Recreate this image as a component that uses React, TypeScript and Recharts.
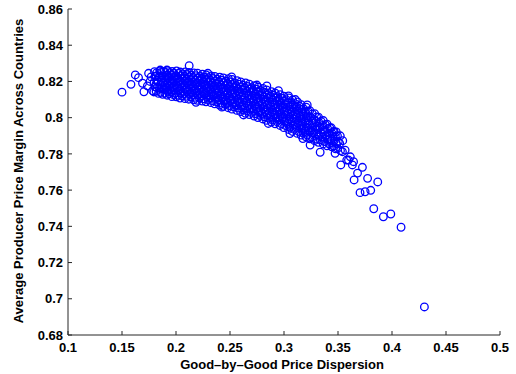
import { ScatterChart, Scatter, XAxis, YAxis } from 'recharts';

// dispersion vs. average producer price margin
const leftTail: [number, number][] = [
  [0.1500, 0.8141], [0.1583, 0.8184], [0.1623, 0.8236], [0.1653, 0.8221], [0.1690, 0.8190],
  [0.1703, 0.8143], [0.1746, 0.8245], [0.1783, 0.8149], [0.1760, 0.8200], [0.1735, 0.8175],
  [0.1854, 0.8263], [0.1916, 0.8263], [0.2122, 0.8287], [0.1770, 0.8225],
];

const coreLeft: [number, number][] = [
  [0.1795, 0.8142], [0.1808, 0.8170], [0.1797, 0.8196], [0.1806, 0.8229], [0.1801, 0.8254],
  [0.1838, 0.8134], [0.1846, 0.8162], [0.1835, 0.8199], [0.1843, 0.8226], [0.1849, 0.8258],
  [0.1877, 0.8129], [0.1886, 0.8158], [0.1883, 0.8191], [0.1874, 0.8231], [0.1889, 0.8255],
  [0.1918, 0.8124], [0.1925, 0.8147], [0.1914, 0.8170], [0.1922, 0.8189], [0.1927, 0.8216], [0.1916, 0.8235], [0.1921, 0.8259],
  [0.1962, 0.8116], [0.1955, 0.8143], [0.1966, 0.8163], [0.1958, 0.8190], [0.1963, 0.8209], [0.1957, 0.8236], [0.1964, 0.8255],
  [0.2003, 0.8115], [0.1996, 0.8135], [0.2006, 0.8163], [0.1998, 0.8183], [0.2004, 0.8211], [0.1997, 0.8231], [0.2005, 0.8258],
  [0.2038, 0.8108], [0.2045, 0.8136], [0.2036, 0.8156], [0.2043, 0.8184], [0.2037, 0.8204], [0.2046, 0.8232], [0.2039, 0.8252],
  [0.2083, 0.8105], [0.2076, 0.8133], [0.2086, 0.8153], [0.2078, 0.8181], [0.2084, 0.8201], [0.2077, 0.8229], [0.2085, 0.8253],
  [0.2118, 0.8102], [0.2126, 0.8130], [0.2116, 0.8150], [0.2124, 0.8178], [0.2117, 0.8198], [0.2125, 0.8226], [0.2119, 0.8250],
  [0.2163, 0.8099], [0.2156, 0.8127], [0.2166, 0.8147], [0.2158, 0.8175], [0.2164, 0.8195], [0.2157, 0.8223], [0.2165, 0.8247],
  [0.2198, 0.8096], [0.2206, 0.8124], [0.2196, 0.8144], [0.2204, 0.8172], [0.2197, 0.8192], [0.2205, 0.8220], [0.2199, 0.8246],
  [0.2243, 0.8092], [0.2236, 0.8120], [0.2246, 0.8140], [0.2238, 0.8168], [0.2244, 0.8188], [0.2237, 0.8216], [0.2245, 0.8240],
  [0.2278, 0.8088], [0.2286, 0.8116], [0.2276, 0.8136], [0.2284, 0.8164], [0.2277, 0.8184], [0.2285, 0.8212], [0.2279, 0.8236],
  [0.2323, 0.8083], [0.2316, 0.8111], [0.2326, 0.8131], [0.2318, 0.8159], [0.2324, 0.8179], [0.2317, 0.8207], [0.2325, 0.8231],
];

const coreMid: [number, number][] = [
  [0.2358, 0.8076], [0.2366, 0.8105], [0.2356, 0.8125], [0.2364, 0.8154], [0.2357, 0.8175], [0.2365, 0.8203], [0.2359, 0.8228],
  [0.2403, 0.8070], [0.2396, 0.8099], [0.2406, 0.8120], [0.2398, 0.8149], [0.2404, 0.8170], [0.2397, 0.8199], [0.2405, 0.8224],
  [0.2438, 0.8063], [0.2446, 0.8092], [0.2436, 0.8114], [0.2444, 0.8143], [0.2437, 0.8164], [0.2445, 0.8194], [0.2439, 0.8219],
  [0.2483, 0.8055], [0.2476, 0.8085], [0.2486, 0.8107], [0.2478, 0.8137], [0.2484, 0.8159], [0.2477, 0.8189], [0.2485, 0.8215],
  [0.2518, 0.8047], [0.2526, 0.8078], [0.2516, 0.8100], [0.2524, 0.8131], [0.2517, 0.8154], [0.2525, 0.8184], [0.2519, 0.8211],
  [0.2563, 0.8040], [0.2556, 0.8071], [0.2566, 0.8093], [0.2558, 0.8124], [0.2564, 0.8147], [0.2557, 0.8177], [0.2565, 0.8204],
  [0.2598, 0.8033], [0.2606, 0.8064], [0.2596, 0.8086], [0.2604, 0.8117], [0.2597, 0.8140], [0.2605, 0.8170], [0.2599, 0.8197],
  [0.2643, 0.8024], [0.2636, 0.8055], [0.2646, 0.8079], [0.2638, 0.8110], [0.2644, 0.8133], [0.2637, 0.8165], [0.2645, 0.8192],
  [0.2678, 0.8017], [0.2686, 0.8048], [0.2676, 0.8072], [0.2684, 0.8103], [0.2677, 0.8126], [0.2685, 0.8158], [0.2679, 0.8185],
  [0.2723, 0.8009], [0.2716, 0.8040], [0.2726, 0.8064], [0.2718, 0.8095], [0.2724, 0.8118], [0.2717, 0.8150], [0.2725, 0.8177],
  [0.2758, 0.8001], [0.2766, 0.8032], [0.2756, 0.8056], [0.2764, 0.8087], [0.2757, 0.8110], [0.2765, 0.8142], [0.2759, 0.8169],
  [0.2803, 0.7993], [0.2796, 0.8024], [0.2806, 0.8048], [0.2798, 0.8079], [0.2804, 0.8102], [0.2797, 0.8134], [0.2805, 0.8161],
  [0.2838, 0.7985], [0.2846, 0.8016], [0.2836, 0.8040], [0.2844, 0.8071], [0.2837, 0.8094], [0.2845, 0.8126], [0.2839, 0.8153],
  [0.2883, 0.7976], [0.2876, 0.8007], [0.2886, 0.8031], [0.2878, 0.8062], [0.2884, 0.8085], [0.2877, 0.8117], [0.2885, 0.8144],
];

const coreRight: [number, number][] = [
  [0.2918, 0.7966], [0.2926, 0.7998], [0.2916, 0.8021], [0.2924, 0.8053], [0.2917, 0.8077], [0.2925, 0.8108], [0.2919, 0.8136],
  [0.2963, 0.7957], [0.2956, 0.7989], [0.2966, 0.8012], [0.2958, 0.8044], [0.2964, 0.8068], [0.2957, 0.8099], [0.2965, 0.8127],
  [0.2998, 0.7945], [0.3006, 0.7978], [0.2996, 0.8002], [0.3004, 0.8034], [0.2997, 0.8058], [0.3005, 0.8091], [0.2999, 0.8119],
  [0.3043, 0.7935], [0.3036, 0.7968], [0.3046, 0.7992], [0.3038, 0.8024], [0.3044, 0.8048], [0.3037, 0.8081], [0.3045, 0.8109],
  [0.3078, 0.7924], [0.3086, 0.7957], [0.3076, 0.7981], [0.3084, 0.8013], [0.3077, 0.8037], [0.3085, 0.8070], [0.3079, 0.8098],
  [0.3123, 0.7913], [0.3116, 0.7946], [0.3126, 0.7970], [0.3118, 0.8002], [0.3124, 0.8026], [0.3117, 0.8059], [0.3125, 0.8087],
  [0.3158, 0.7904], [0.3166, 0.7935], [0.3156, 0.7959], [0.3164, 0.7990], [0.3157, 0.8013], [0.3165, 0.8045], [0.3159, 0.8072],
  [0.3203, 0.7894], [0.3196, 0.7925], [0.3206, 0.7947], [0.3198, 0.7978], [0.3204, 0.8001], [0.3197, 0.8031], [0.3205, 0.8058],
  [0.3238, 0.7883], [0.3246, 0.7926], [0.3236, 0.7961], [0.3244, 0.8004], [0.3239, 0.8039],
  [0.3283, 0.7873], [0.3276, 0.7915], [0.3286, 0.7948], [0.3278, 0.7990], [0.3284, 0.8022],
  [0.3318, 0.7864], [0.3326, 0.7903], [0.3316, 0.7934], [0.3324, 0.7973], [0.3319, 0.8003],
  [0.3363, 0.7855], [0.3356, 0.7892], [0.3366, 0.7920], [0.3358, 0.7957], [0.3364, 0.7984],
  [0.3398, 0.7845], [0.3406, 0.7879], [0.3396, 0.7905], [0.3404, 0.7939], [0.3399, 0.7964],
  [0.3443, 0.7839], [0.3436, 0.7872], [0.3446, 0.7912], [0.3438, 0.7944],
  [0.3478, 0.7828], [0.3486, 0.7857], [0.3476, 0.7895], [0.3484, 0.7921],
  [0.3523, 0.7818], [0.3516, 0.7858], [0.3521, 0.7900],
];

// second, staggered layer filling the gaps of the dense band
const fillLeft: [number, number][] = [
  [0.1816, 0.8146], [0.1823, 0.8166], [0.1815, 0.8186], [0.1824, 0.8208], [0.1817, 0.8228], [0.1822, 0.8248],
  [0.1856, 0.8140], [0.1863, 0.8162], [0.1855, 0.8184], [0.1864, 0.8206], [0.1857, 0.8228], [0.1862, 0.8250],
  [0.1896, 0.8135], [0.1903, 0.8157], [0.1895, 0.8180], [0.1904, 0.8204], [0.1897, 0.8227], [0.1902, 0.8249],
  [0.1936, 0.8132], [0.1943, 0.8155], [0.1935, 0.8178], [0.1944, 0.8202], [0.1937, 0.8225], [0.1942, 0.8248],
  [0.1976, 0.8127], [0.1983, 0.8150], [0.1975, 0.8174], [0.1984, 0.8198], [0.1977, 0.8222], [0.1982, 0.8245],
  [0.2016, 0.8124], [0.2023, 0.8148], [0.2015, 0.8172], [0.2024, 0.8196], [0.2017, 0.8220], [0.2022, 0.8244],
  [0.2056, 0.8121], [0.2063, 0.8145], [0.2055, 0.8169], [0.2064, 0.8193], [0.2057, 0.8217], [0.2062, 0.8241],
  [0.2096, 0.8118], [0.2103, 0.8142], [0.2095, 0.8166], [0.2104, 0.8190], [0.2097, 0.8214], [0.2102, 0.8238],
  [0.2136, 0.8115], [0.2143, 0.8139], [0.2135, 0.8163], [0.2144, 0.8187], [0.2137, 0.8211], [0.2142, 0.8235],
  [0.2176, 0.8112], [0.2183, 0.8136], [0.2175, 0.8160], [0.2184, 0.8184], [0.2177, 0.8208], [0.2182, 0.8232],
  [0.2216, 0.8108], [0.2223, 0.8132], [0.2215, 0.8156], [0.2224, 0.8180], [0.2217, 0.8204], [0.2222, 0.8228],
  [0.2256, 0.8104], [0.2263, 0.8128], [0.2255, 0.8152], [0.2264, 0.8176], [0.2257, 0.8200], [0.2262, 0.8224],
  [0.2296, 0.8100], [0.2303, 0.8124], [0.2295, 0.8148], [0.2304, 0.8172], [0.2297, 0.8196], [0.2302, 0.8220],
];

const fillMid: [number, number][] = [
  [0.2336, 0.8094], [0.2343, 0.8118], [0.2335, 0.8143], [0.2344, 0.8167], [0.2337, 0.8192], [0.2342, 0.8216],
  [0.2376, 0.8088], [0.2383, 0.8112], [0.2375, 0.8137], [0.2384, 0.8163], [0.2377, 0.8188], [0.2382, 0.8212],
  [0.2416, 0.8081], [0.2423, 0.8106], [0.2415, 0.8131], [0.2424, 0.8157], [0.2417, 0.8182], [0.2422, 0.8207],
  [0.2456, 0.8074], [0.2463, 0.8099], [0.2455, 0.8125], [0.2464, 0.8151], [0.2457, 0.8177], [0.2462, 0.8202],
  [0.2496, 0.8066], [0.2503, 0.8092], [0.2495, 0.8119], [0.2504, 0.8145], [0.2497, 0.8172], [0.2502, 0.8198],
  [0.2536, 0.8060], [0.2543, 0.8086], [0.2535, 0.8112], [0.2544, 0.8140], [0.2537, 0.8166], [0.2542, 0.8192],
  [0.2576, 0.8053], [0.2583, 0.8079], [0.2575, 0.8105], [0.2584, 0.8133], [0.2577, 0.8159], [0.2582, 0.8185],
  [0.2616, 0.8045], [0.2623, 0.8071], [0.2615, 0.8098], [0.2624, 0.8126], [0.2617, 0.8153], [0.2622, 0.8179],
  [0.2656, 0.8037], [0.2663, 0.8064], [0.2655, 0.8091], [0.2664, 0.8119], [0.2657, 0.8146], [0.2662, 0.8173],
  [0.2696, 0.8029], [0.2703, 0.8056], [0.2695, 0.8083], [0.2704, 0.8111], [0.2697, 0.8138], [0.2702, 0.8165],
  [0.2736, 0.8021], [0.2743, 0.8048], [0.2735, 0.8075], [0.2744, 0.8103], [0.2737, 0.8130], [0.2742, 0.8157],
  [0.2776, 0.8013], [0.2783, 0.8040], [0.2775, 0.8067], [0.2784, 0.8095], [0.2777, 0.8122], [0.2782, 0.8149],
  [0.2816, 0.8005], [0.2823, 0.8032], [0.2815, 0.8059], [0.2824, 0.8087], [0.2817, 0.8114], [0.2822, 0.8141],
  [0.2856, 0.7997], [0.2863, 0.8024], [0.2855, 0.8051], [0.2864, 0.8079], [0.2857, 0.8106], [0.2862, 0.8133],
];

const fillRight: [number, number][] = [
  [0.2896, 0.7987], [0.2903, 0.8014], [0.2895, 0.8042], [0.2904, 0.8070], [0.2897, 0.8098], [0.2902, 0.8125],
  [0.2936, 0.7978], [0.2943, 0.8005], [0.2935, 0.8033], [0.2944, 0.8061], [0.2937, 0.8089], [0.2942, 0.8116],
  [0.2976, 0.7967], [0.2983, 0.7995], [0.2975, 0.8023], [0.2984, 0.8051], [0.2977, 0.8079], [0.2982, 0.8107],
  [0.3016, 0.7956], [0.3023, 0.7984], [0.3015, 0.8013], [0.3024, 0.8041], [0.3017, 0.8070], [0.3022, 0.8098],
  [0.3056, 0.7946], [0.3063, 0.7974], [0.3055, 0.8003], [0.3064, 0.8031], [0.3057, 0.8060], [0.3062, 0.8088],
  [0.3096, 0.7935], [0.3103, 0.7963], [0.3095, 0.7992], [0.3104, 0.8020], [0.3097, 0.8049], [0.3102, 0.8077],
  [0.3136, 0.7924], [0.3143, 0.7952], [0.3135, 0.7980], [0.3144, 0.8008], [0.3137, 0.8036], [0.3142, 0.8064],
  [0.3176, 0.7915], [0.3183, 0.7942], [0.3175, 0.7968], [0.3184, 0.7996], [0.3177, 0.8022], [0.3182, 0.8049],
  [0.3216, 0.7904], [0.3223, 0.7930], [0.3215, 0.7957], [0.3224, 0.7983], [0.3217, 0.8010], [0.3222, 0.8036],
  [0.3256, 0.7893], [0.3263, 0.7918], [0.3255, 0.7944], [0.3264, 0.7970], [0.3257, 0.7996], [0.3262, 0.8021],
  [0.3296, 0.7882], [0.3303, 0.7906], [0.3295, 0.7931], [0.3304, 0.7955], [0.3297, 0.7980], [0.3302, 0.8004],
  [0.3336, 0.7878], [0.3343, 0.7912], [0.3335, 0.7946], [0.3344, 0.7980],
  [0.3376, 0.7868], [0.3383, 0.7899], [0.3375, 0.7931], [0.3384, 0.7962],
  [0.3416, 0.7856], [0.3423, 0.7885], [0.3415, 0.7915], [0.3424, 0.7944],
  [0.3456, 0.7844], [0.3463, 0.7871], [0.3455, 0.7897], [0.3464, 0.7924],
  [0.3496, 0.7830], [0.3503, 0.7868], [0.3495, 0.7900],
];

const edgeBumps: [number, number][] = [
  [0.2185, 0.8085], [0.2425, 0.8058], [0.2625, 0.8015], [0.2855, 0.7968], [0.3055, 0.7912], [0.3175, 0.7885],
  [0.2295, 0.8245], [0.2515, 0.8225], [0.2749, 0.8180], [0.2841, 0.8175], [0.2949, 0.8149], [0.3042, 0.8120],
  [0.3105, 0.8100], [0.3215, 0.8070],
];

const rightTail: [number, number][] = [
  [0.3457, 0.7922], [0.3544, 0.7873], [0.3566, 0.7821], [0.3541, 0.7812], [0.3473, 0.7803], [0.3335, 0.7809],
  [0.3242, 0.7849], [0.3581, 0.7766], [0.3614, 0.7784], [0.3597, 0.7766], [0.3644, 0.7757], [0.3526, 0.7739],
  [0.3633, 0.7739], [0.3726, 0.7726], [0.3681, 0.7694], [0.3649, 0.7656], [0.3774, 0.7665], [0.3868, 0.7645],
  [0.3704, 0.7586], [0.3751, 0.7591], [0.3803, 0.7599], [0.3831, 0.7497], [0.3920, 0.7453], [0.3989, 0.7468],
  [0.4084, 0.7395], [0.4300, 0.6955],
];

const xTicks = [0.1, 0.15, 0.2, 0.25, 0.3, 0.35, 0.4, 0.45, 0.5];
const yTicks = [0.68, 0.7, 0.72, 0.74, 0.76, 0.78, 0.8, 0.82, 0.84, 0.86];

const points = [
  ...leftTail, ...coreLeft, ...coreMid, ...coreRight,
  ...fillLeft, ...fillMid, ...fillRight, ...edgeBumps, ...rightTail,
].map(([x, y]) => ({ x, y }));

const FONT = '"Liberation Sans", Arial, Helvetica, sans-serif';
const tickStyle = { fill: '#000', fontSize: 13, fontWeight: 700, fontFamily: FONT };

const Ring = (props: any) => (
  <circle cx={props.cx} cy={props.cy} r={3.8} fill="none" stroke="#0000ff" strokeWidth={1.3} />
);

const XTitle = (props: any) => {
  const vb = props.viewBox;
  return (
    <text x={vb.x + vb.width / 2 - 2} y={vb.y + 34} textAnchor="middle" style={tickStyle}>
      Good–by–Good Price Dispersion
    </text>
  );
};

const YTitle = (props: any) => {
  const vb = props.viewBox;
  const cx = vb.x + 23;
  const cy = vb.y + vb.height / 2 - 1;
  return (
    <text x={cx} y={cy} transform={`rotate(-90, ${cx}, ${cy})`} textAnchor="middle" style={tickStyle}>
      Average Producer Price Margin Across Countries
    </text>
  );
};

export default function App() {
  return (
    <div style={{ position: 'absolute', left: 0, top: 0, background: '#fff' }}>
      <ScatterChart width={516} height={374} margin={{ top: 9, right: 16, bottom: 0, left: 0 }}>
        <XAxis
          type="number"
          dataKey="x"
          domain={[0.1, 0.5]}
          ticks={xTicks}
          interval={0}
          height={39}
          tickSize={-4}
          tickMargin={12}
          tick={tickStyle}
          tickFormatter={(v: number) => String(v)}
          stroke="#262626"
          label={{ content: XTitle }}
        />
        <YAxis
          type="number"
          dataKey="y"
          domain={[0.68, 0.86]}
          ticks={yTicks}
          interval={0}
          width={68}
          tickSize={-4}
          tickMargin={9}
          tick={tickStyle}
          tickFormatter={(v: number) => String(v)}
          stroke="#262626"
          label={{ content: YTitle }}
        />
        <Scatter data={points} shape={Ring} isAnimationActive={false} />
      </ScatterChart>
    </div>
  );
}
